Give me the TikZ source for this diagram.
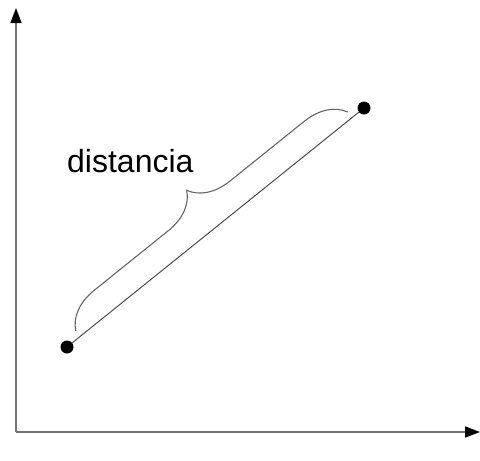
\documentclass[tikz,border=0pt]{standalone}
\usepackage{fontspec}
\setmainfont{Liberation Sans}
\usetikzlibrary{arrows.meta,decorations.pathreplacing}

\begin{document}
\begin{tikzpicture}[x=1pt, y=-1pt,
    axis/.style={draw=black!55, line width=1.4pt, -{Triangle[length=15pt,width=11pt,color=black]}},
    dot/.style={circle, fill=black, inner sep=0pt, minimum size=13pt},
    bracket/.style={draw=black!60, line width=1.1pt, decorate, decoration={brace, amplitude=40pt}}]
    \useasboundingbox (0,0) rectangle (480,461);
    \coordinate (o) at (16,432);
    \coordinate (ytop) at (16,8);
    \coordinate (xend) at (480,432);
    \node[dot] (a) at (67,347) {};
    \node[dot] (b) at (364,108) {};
    \coordinate (ba) at (75.8,330.8);
    \coordinate (bb) at (347.7,112);
    \node[anchor=base west, inner sep=0pt, font=\fontsize{32}{38}\selectfont] (lbl) at (67,172) {distancia};
        \draw[axis] (o) -- (ytop);
        \draw[axis] (o) -- (xend);
        \draw[black!70, line width=1pt] (a) -- (b);
        \draw[bracket] (ba) -- (bb);
\end{tikzpicture}
\end{document}
